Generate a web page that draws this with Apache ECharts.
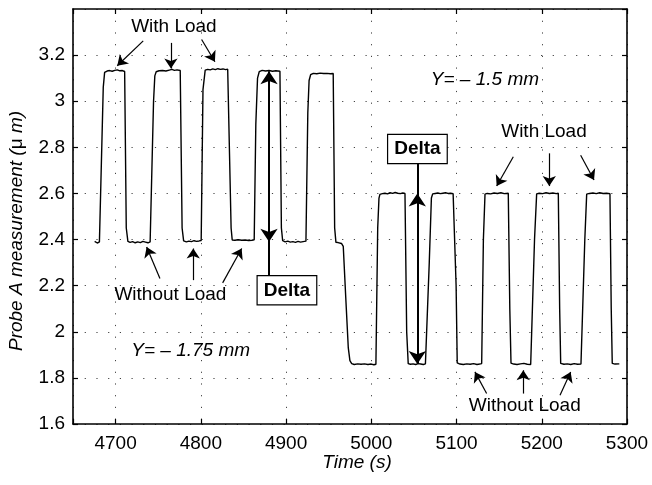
<!DOCTYPE html>
<html>
<head>
<meta charset="utf-8">
<script src="https://cdn.jsdelivr.net/npm/echarts@6/dist/echarts.min.js"></script>
<style>
  html, body { margin: 0; padding: 0; background: #fff; }
  #chart { width: 652px; height: 485px; }
</style>
</head>
<body>
<div id="chart"></div>
<script>
// Probe A reading over time (s) and measured displacement (µm)
const time = [
  4675.4, 4676.5, 4678.5, 4681, 4683.1,
  4685.5, 4687.1, 4690, 4693, 4696, 4699, 4702, 4705, 4708, 4710.6,
  4712.5, 4714.4, 4717, 4720, 4723, 4726, 4729, 4732, 4735, 4738, 4740.5, 4742.6,
  4744.5, 4746, 4747.6, 4751, 4755, 4759, 4763, 4766, 4769, 4772, 4775.8,
  4778, 4779.8, 4783, 4786, 4789, 4792, 4795, 4798, 4800.4,
  4802.5, 4805.1, 4808, 4811, 4814, 4817, 4820, 4823, 4826, 4829, 4831.5, 4833.8,
  4835.5, 4836.8, 4840, 4844, 4848, 4852, 4856, 4860, 4862.6,
  4864.5, 4866.5, 4868.5, 4872, 4876, 4880, 4884, 4888, 4892.8,
  4894.5, 4896, 4899, 4902, 4905, 4908, 4911, 4914, 4917, 4920, 4923.3,
  4925.5, 4927, 4928.8, 4932, 4936, 4940, 4944, 4948, 4952, 4955.3,
  4957, 4958.5, 4961, 4963, 4965, 4967.1,
  4970, 4973, 4974.9, 4977, 4980, 4984, 4988, 4992, 4996, 5000, 5003, 5005.4,
  5007.5, 5009, 5010.1, 5013, 5016, 5019, 5022, 5025, 5028, 5031, 5034, 5037, 5039.5,
  5041.5, 5043.3, 5046, 5049, 5052, 5055, 5058, 5061, 5063.5, 5065.6,
  5068, 5070.5, 5072, 5075, 5078, 5081, 5084, 5087, 5090, 5093, 5096, 5098.1,
  5099.5, 5100.8, 5104, 5108, 5112, 5116, 5120, 5124, 5127, 5129.5,
  5131.5, 5133.4, 5136, 5140, 5144, 5148, 5152, 5156, 5160.7,
  5162.5, 5163.9, 5167, 5171, 5175, 5179, 5183, 5187, 5189.3,
  5191.5, 5194, 5197, 5201, 5205, 5209, 5213, 5217, 5219.4,
  5221, 5222.2, 5226, 5230, 5234, 5238, 5242, 5246, 5248,
  5250.5, 5252.7, 5256, 5260, 5264, 5268, 5272, 5276, 5280,
  5281.5, 5282.7, 5286, 5291
];
const probeA = [
  2.392, 2.386, 2.385, 2.390, 2.395,
  3.060, 3.125, 3.131, 3.133, 3.130, 3.134, 3.136, 3.132, 3.133, 3.129,
  2.450, 2.392, 2.388, 2.391, 2.386, 2.390, 2.387, 2.392, 2.389, 2.386, 2.390, 2.394,
  3.000, 3.110, 3.128, 3.132, 3.133, 3.131, 3.135, 3.138, 3.134, 3.136, 3.133,
  2.450, 2.394, 2.390, 2.393, 2.391, 2.395, 2.392, 2.394, 2.396,
  3.050, 3.135, 3.138, 3.136, 3.140, 3.137, 3.141, 3.138, 3.140, 3.137, 3.139, 3.136,
  2.450, 2.398, 2.397, 2.399, 2.397, 2.398, 2.396, 2.397, 2.399,
  2.900, 3.100, 3.128, 3.134, 3.131, 3.133, 3.130, 3.132, 3.130,
  2.450, 2.395, 2.390, 2.393, 2.389, 2.391, 2.388, 2.392, 2.389, 2.391, 2.393,
  2.950, 3.090, 3.115, 3.121, 3.119, 3.122, 3.120, 3.121, 3.119, 3.120,
  2.450, 2.388, 2.387, 2.385, 2.383, 2.370,
  2.150, 1.930, 1.875, 1.862, 1.858, 1.861, 1.859, 1.861, 1.858, 1.860, 1.857, 1.859,
  2.450, 2.580, 2.596, 2.599, 2.601, 2.598, 2.603, 2.600, 2.604, 2.601, 2.599, 2.602, 2.600,
  2.000, 1.862, 1.859, 1.861, 1.858, 1.862, 1.860, 1.858, 1.861, 1.862,
  2.300, 2.580, 2.598, 2.600, 2.602, 2.599, 2.601, 2.603, 2.600, 2.601, 2.599, 2.600,
  2.200, 1.865, 1.860, 1.858, 1.861, 1.859, 1.862, 1.858, 1.860, 1.862,
  2.400, 2.597, 2.600, 2.598, 2.602, 2.600, 2.603, 2.599, 2.601,
  2.100, 1.864, 1.860, 1.858, 1.861, 1.863, 1.859, 1.858, 1.861,
  2.400, 2.598, 2.601, 2.599, 2.603, 2.600, 2.602, 2.599, 2.601,
  2.100, 1.863, 1.859, 1.861, 1.858, 1.862, 1.859, 1.860, 1.862,
  2.400, 2.597, 2.600, 2.602, 2.599, 2.603, 2.600, 2.601, 2.599,
  2.100, 1.863, 1.860, 1.861
];

// Axis ranges
const xMin = 4650, xMax = 5300, xStep = 100;
const yMin = 1.6, yMax = 3.4, yStep = 0.2;

// Annotation arrows: [tailTime, tailValue, tipTime, tipValue]
const withLoadArrows = [
  [4732.4, 3.262, 4701.9, 3.154],
  [4764.9, 3.253, 4764.9, 3.142],
  [4800.9, 3.268, 4816.5, 3.171],
  [5166.6, 2.759, 5147.1, 2.632],
  [5208.8, 2.774, 5208.8, 2.632],
  [5245.6, 2.766, 5261.3, 2.658]
];
const withoutLoadArrows = [
  [4752.0, 2.231, 4736.4, 2.368],
  [4791.1, 2.224, 4791.1, 2.361],
  [4825.6, 2.212, 4847.9, 2.361],
  [5135.3, 1.732, 5121.6, 1.826],
  [5178.3, 1.732, 5178.3, 1.833],
  [5221.4, 1.725, 5233.9, 1.826]
];
// Delta markers: time, value where the line meets the box, and the two levels
const deltaLeft = { t: 4880, from: 2.245, high: 3.13, low: 2.39 };
const deltaRight = { t: 5054, from: 2.73, high: 2.60, low: 1.86 };

// Text annotations: [text, time, value, italic]
const notes = [
  ['With Load', 4768.4, 3.324, false],
  ['Without Load', 4764.3, 2.159, false],
  ['With Load', 5202.6, 2.867, false],
  ['Without Load', 5180.0, 1.679, false],
  ['Y= \u2013 1.5 mm', 5133.3, 3.092, true],
  ['Y= \u2013 1.75 mm', 4788.1, 1.920, true]
];
const deltaBoxes = [
  ['Delta', 4901.0, 2.180],
  ['Delta', 5054.1, 2.793]
];

const FONT = 'Liberation Sans, Arial, Helvetica, sans-serif';
const FS = 19;

const series = time.map((t, i) => [t, probeA[i]]);

function seg(a) {
  return [{ coord: [a[0], a[1]] }, { coord: [a[2], a[3]] }];
}
const smallArrowLines = withLoadArrows.concat(withoutLoadArrows).map(seg);
const deltaLines = [
  seg([deltaLeft.t, deltaLeft.from, deltaLeft.t, deltaLeft.high]),
  seg([deltaLeft.t, deltaLeft.high - 0.2, deltaLeft.t, deltaLeft.low]),
  seg([deltaRight.t, deltaRight.from, deltaRight.t, deltaRight.low]),
  seg([deltaRight.t, deltaRight.low + 0.2, deltaRight.t, deltaRight.high])
];

const chart = echarts.init(document.getElementById('chart'), null, { renderer: 'canvas' });

const gridLine = { show: true, lineStyle: { color: '#444', width: 1, type: [1.2, 10.5] } };
const blackAxis = { show: true, lineStyle: { color: '#000', width: 1.6 } };
const innerTick = { show: true, inside: true, length: 5, lineStyle: { color: '#000', width: 1.2 } };

const option = {
  animation: false,
  backgroundColor: '#fff',
  grid: { left: 73, right: 25, top: 9, bottom: 61, containLabel: false },
  xAxis: [
    {
      type: 'value', min: xMin, max: xMax, minInterval: xStep, maxInterval: xStep,
      axisLine: blackAxis, axisTick: innerTick, splitLine: gridLine,
      axisLabel: {
        color: '#000', fontSize: FS, fontFamily: FONT, margin: 10,
        formatter: v => (Math.abs(v % xStep) < 1e-6 ? String(v) : '')
      }
    },
    {
      type: 'value', position: 'top', min: xMin, max: xMax, minInterval: xStep, maxInterval: xStep,
      axisLine: blackAxis, axisTick: innerTick, splitLine: { show: false }, axisLabel: { show: false }
    }
  ],
  yAxis: [
    {
      type: 'value', min: yMin, max: yMax, interval: yStep,
      axisLine: blackAxis, axisTick: innerTick, splitLine: gridLine,
      axisLabel: {
        color: '#000', fontSize: FS, fontFamily: FONT, margin: 8, showMaxLabel: false,
        formatter: v => String(Math.round(v * 10) / 10)
      }
    },
    {
      type: 'value', position: 'right', min: yMin, max: yMax, interval: yStep,
      axisLine: blackAxis, axisTick: innerTick, splitLine: { show: false }, axisLabel: { show: false }
    }
  ],
  series: [
    {
      type: 'line', data: series, showSymbol: false, symbol: 'none',
      lineStyle: { color: '#000', width: 1.4 }, emphasis: { disabled: true }, silent: true,
      z: 3,
      markLine: {
        silent: true, symbol: ['none', 'arrow'], symbolSize: 10,
        label: { show: false }, emphasis: { disabled: true },
        lineStyle: { color: '#000', width: 1.2, type: 'solid' },
        data: smallArrowLines
      }
    },
    {
      type: 'line', data: [], silent: true, z: 4,
      markLine: {
        silent: true, symbol: ['none', 'arrow'], symbolSize: 13,
        label: { show: false }, emphasis: { disabled: true },
        lineStyle: { color: '#000', width: 2, type: 'solid' },
        data: deltaLines
      }
    }
  ]
};
chart.setOption(option);

// Text annotations positioned through the chart's own coordinate system
const graphics = [];
notes.forEach(([txt, t, v, italic]) => {
  const p = chart.convertToPixel({ gridIndex: 0 }, [t, v]);
  graphics.push({
    type: 'text', x: p[0], y: p[1], z: 10, silent: true,
    style: {
      text: txt, fill: '#000', font: (italic ? 'italic ' : '') + FS + 'px ' + FONT,
      align: 'center', verticalAlign: 'middle'
    }
  });
});
deltaBoxes.forEach(([txt, t, v]) => {
  const p = chart.convertToPixel({ gridIndex: 0 }, [t, v]);
  graphics.push({
    type: 'text', x: p[0], y: p[1], z: 10, silent: true,
    style: {
      text: txt, fill: '#000', font: 'bold ' + FS + 'px ' + FONT,
      align: 'center', verticalAlign: 'middle',
      backgroundColor: '#fff', borderColor: '#000', borderWidth: 1.2,
      padding: [5, 6, 4, 6]
    }
  });
});
// Axis titles
graphics.push({
  type: 'text', x: 357, y: 463, silent: true,
  style: { text: 'Time (s)', fill: '#000', font: 'italic ' + FS + 'px ' + FONT, align: 'center', verticalAlign: 'middle' }
});
graphics.push({
  type: 'text', x: 17, y: 231, rotation: Math.PI / 2, silent: true,
  style: {
    text: '{i|Probe A measurement (}{u|\u03bc}{i| m)}', fill: '#000',
    align: 'center', verticalAlign: 'middle',
    rich: {
      i: { fontStyle: 'italic', fontSize: FS, fontFamily: FONT, fill: '#000' },
      u: { fontStyle: 'normal', fontSize: FS, fontFamily: FONT, fill: '#000' }
    }
  }
});
chart.setOption({ graphic: graphics });
</script>
</body>
</html>
